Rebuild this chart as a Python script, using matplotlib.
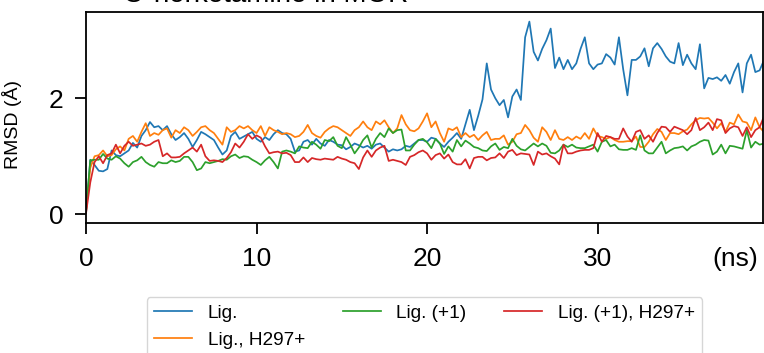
import numpy as np
import matplotlib
matplotlib.use("Agg")
import matplotlib.pyplot as plt

plt.rcParams['font.family'] = ['Liberation Sans', 'DejaVu Sans']

# sampling every 0.25 ns
time_ns = np.arange(160) * 0.25

lig = [
    0.02, 0.94, 0.85, 0.75, 0.74, 0.78, 1.10, 1.02,
    1.00, 1.05, 1.10, 1.23, 1.15, 1.35, 1.45, 1.59,
    1.50, 1.52, 1.45, 1.52, 1.38, 1.28, 1.33, 1.40,
    1.30, 1.16, 1.28, 1.42, 1.38, 1.33, 1.28, 1.15,
    1.03, 1.10, 1.35, 1.42, 1.30, 1.34, 1.38, 1.42,
    1.30, 1.25, 1.33, 1.28, 1.38, 1.45, 1.40, 1.38,
    1.30, 1.08, 1.10, 1.25, 1.28, 1.20, 1.30, 1.22,
    1.18, 1.28, 1.25, 1.20, 1.19, 1.12, 1.16, 1.22,
    1.19, 1.15, 1.18, 1.13, 1.20, 1.22, 1.15, 1.08,
    1.12, 1.10, 1.12, 1.18, 1.16, 1.22, 1.28, 1.28,
    1.25, 1.32, 1.30, 1.22, 1.16, 1.25, 1.32, 1.40,
    1.30, 1.55, 1.80, 1.45, 1.70, 1.98, 2.60, 2.15,
    2.00, 1.88, 1.97, 1.67, 2.03, 2.15, 1.97, 3.05,
    3.32, 2.80, 2.65, 2.85, 3.00, 3.20, 2.52, 2.70,
    2.50, 2.66, 2.50, 2.60, 2.85, 3.05, 2.60, 2.50,
    2.58, 2.60, 2.76, 2.70, 2.58, 3.05, 2.50, 2.05,
    2.66, 2.66, 2.72, 2.86, 2.55, 2.86, 2.95, 2.85,
    2.72, 2.63, 2.60, 2.95, 2.57, 2.75, 2.60, 2.50,
    2.93, 2.17, 2.35, 2.33, 2.36, 2.30, 2.40, 2.25,
    2.45, 2.60, 2.10, 2.60, 2.75, 2.45, 2.48, 2.65,
]

lig_h297 = [
    0.05, 0.80, 1.00, 1.02, 1.10, 1.00, 1.02, 1.12,
    1.17, 1.10, 1.30, 1.35, 1.25, 1.42, 1.57, 1.35,
    1.40, 1.37, 1.45, 1.48, 1.32, 1.45, 1.40, 1.50,
    1.45, 1.35, 1.42, 1.50, 1.52, 1.45, 1.40, 1.30,
    1.20, 1.50, 1.42, 1.45, 1.52, 1.48, 1.52, 1.45,
    1.40, 1.52, 1.35, 1.50, 1.45, 1.42, 1.38, 1.40,
    1.38, 1.33, 1.35, 1.42, 1.54, 1.40, 1.35, 1.32,
    1.42, 1.48, 1.52, 1.50, 1.45, 1.40, 1.35, 1.45,
    1.50, 1.60, 1.50, 1.45, 1.60, 1.55, 1.62, 1.50,
    1.40, 1.48, 1.71, 1.55, 1.45, 1.43, 1.48, 1.60,
    1.74, 1.50, 1.60, 1.40, 1.25, 1.48, 1.45, 1.50,
    1.33, 1.40, 1.33, 1.37, 1.28, 1.36, 1.42, 1.28,
    1.30, 1.30, 1.36, 1.20, 1.25, 1.38, 1.40, 1.54,
    1.45, 1.32, 1.25, 1.50, 1.42, 1.28, 1.45, 1.30,
    1.28, 1.33, 1.28, 1.34, 1.30, 1.40, 1.30, 1.48,
    1.35, 1.33, 1.30, 1.33, 1.28, 1.25, 1.25, 1.26,
    1.26, 1.34, 1.16, 1.16, 1.25, 1.38, 1.47, 1.42,
    1.28, 1.40, 1.40, 1.38, 1.43, 1.46, 1.55, 1.62,
    1.66, 1.65, 1.66, 1.58, 1.48, 1.57, 1.42, 1.58,
    1.55, 1.72, 1.60, 1.58, 1.45, 1.67, 1.50, 1.42,
]

lig_p1 = [
    0.05, 0.93, 0.94, 0.94, 1.04, 0.96, 0.94, 1.00,
    0.96, 0.88, 0.82, 0.90, 0.93, 0.99, 0.90, 0.85,
    0.82, 0.90, 0.88, 0.88, 0.93, 0.90, 0.92, 0.99,
    0.99, 0.90, 0.76, 0.79, 0.90, 0.88, 0.90, 0.92,
    0.95, 0.94, 1.00, 1.03, 0.97, 1.00, 0.99, 0.94,
    0.90, 0.85, 0.93, 0.99, 0.90, 0.79, 1.08, 1.10,
    1.08, 1.05, 1.17, 1.15, 1.14, 1.25, 1.20, 1.13,
    1.28, 1.26, 1.33, 1.18, 1.14, 1.33, 1.20, 1.05,
    1.15, 1.28, 1.36, 1.15, 1.30, 1.40, 1.33, 1.48,
    1.40, 1.45, 1.46, 1.10, 1.10, 1.20, 1.28, 1.30,
    1.24, 1.14, 1.30, 1.22, 1.04, 1.17, 1.08, 1.28,
    1.17, 1.27, 1.22, 1.16, 1.14, 1.10, 1.09, 1.17,
    1.22, 1.11, 1.16, 1.14, 1.30, 1.18, 1.12, 1.10,
    1.16, 1.22, 1.17, 1.22, 1.18, 1.06, 1.05, 1.10,
    1.20, 1.16, 1.20, 1.15, 1.14, 1.14, 1.17, 1.20,
    1.08, 1.25, 1.28, 1.17, 1.20, 1.12, 1.11, 1.11,
    1.14, 1.11, 1.36, 1.10, 1.05, 1.05, 1.15, 1.25,
    1.05, 1.10, 1.14, 1.15, 1.17, 1.10, 1.17, 1.20,
    1.25, 1.28, 1.27, 1.03, 1.08, 1.20, 1.05, 1.18,
    1.17, 1.15, 1.13, 1.45, 1.15, 1.25, 1.20, 1.22,
]

lig_p1_h297 = [
    0.02, 0.55, 0.90, 1.00, 0.88, 1.02, 1.05, 1.20,
    1.05, 1.18, 1.25, 1.18, 1.20, 1.22, 1.18, 1.20,
    1.25, 1.28, 1.00, 1.05, 0.98, 0.98, 0.99, 1.05,
    1.10, 1.15, 1.08, 1.20, 1.00, 0.92, 0.93, 0.92,
    0.90, 0.97, 1.07, 1.22, 1.15, 1.25, 1.38, 1.30,
    1.36, 1.32, 1.17, 1.05, 1.07, 1.08, 1.05, 1.06,
    1.02, 0.90, 0.90, 0.98, 0.90, 0.97, 0.95, 0.94,
    0.96, 0.95, 0.94, 0.99, 0.96, 0.94, 0.90, 0.88,
    0.78, 0.98, 1.10, 0.99, 1.10, 1.15, 1.18, 0.92,
    0.94, 0.92, 0.90, 0.85, 0.99, 1.02, 1.07, 1.10,
    1.05, 0.94, 1.02, 1.05, 0.96, 1.03, 0.90, 0.86,
    0.86, 0.95, 0.79, 0.97, 0.99, 0.99, 0.93, 0.97,
    0.98, 1.05, 0.97, 1.08, 1.11, 1.02, 1.05, 1.04,
    1.03, 0.85, 1.08, 1.03, 1.05, 1.00, 0.96, 0.86,
    1.20, 1.05, 1.05, 1.08, 1.10, 1.11, 1.11, 1.14,
    1.40, 1.25, 1.35, 1.33, 1.30, 1.30, 1.48, 1.34,
    1.25, 1.42, 1.45, 1.30, 1.36, 1.25, 1.40, 1.51,
    1.50, 1.42, 1.51, 1.48, 1.45, 1.38, 1.45, 1.66,
    1.45, 1.50, 1.58, 1.45, 1.64, 1.62, 1.40, 1.48,
    1.52, 1.50, 1.35, 1.50, 1.33, 1.45, 1.50, 1.68,
]

labels = ["Lig.", "Lig., H297+", "Lig. (+1)", "Lig. (+1), H297+"]
colors = ["tab:blue", "tab:orange", "tab:green", "tab:red"]
title = "O-norketamine in MOR"
xticks = [0, 10, 20, 30, 38.1]
xticklabels = ["0", "10", "20", "30", "(ns)"]


def plot_rmsd():
    fig = plt.figure(figsize=(7.64, 3.53), dpi=100)
    ax = fig.add_axes([0.1126, 0.3674, 0.8861, 0.5977])

    series = [lig, lig_h297, lig_p1, lig_p1_h297]
    for values, label, color in zip(series, labels, colors):
        ax.plot(time_ns, values, color=color, lw=1.25, label=label)

    ax.set_xlim(0, 39.7)
    ax.set_ylim(-0.155, 3.48)
    ax.set_xticks(xticks)
    ax.set_xticklabels(xticklabels)
    ax.xaxis.get_major_ticks()[-1].tick1line.set_visible(False)
    ax.set_yticks([0, 2])
    ax.tick_params(labelsize=19, length=8, width=1.3)
    ax.tick_params(axis='y', pad=8)
    ax.tick_params(axis='x', pad=9)
    for spine in ax.spines.values():
        spine.set_linewidth(1.3)

    ax.set_ylabel("RMSD (Å)", fontsize=14)
    ax.yaxis.set_label_coords(-0.094, 0.47)

    fig.text(123 / 764, 0.995, title, fontsize=20, ha='left', va='baseline')

    ax.legend(loc='upper center', bbox_to_anchor=(0.5557, 0.1586),
              bbox_transform=fig.transFigure, borderaxespad=0,
              ncol=3, fontsize=13.7)

    fig.savefig("out.png", dpi=100)


plot_rmsd()
